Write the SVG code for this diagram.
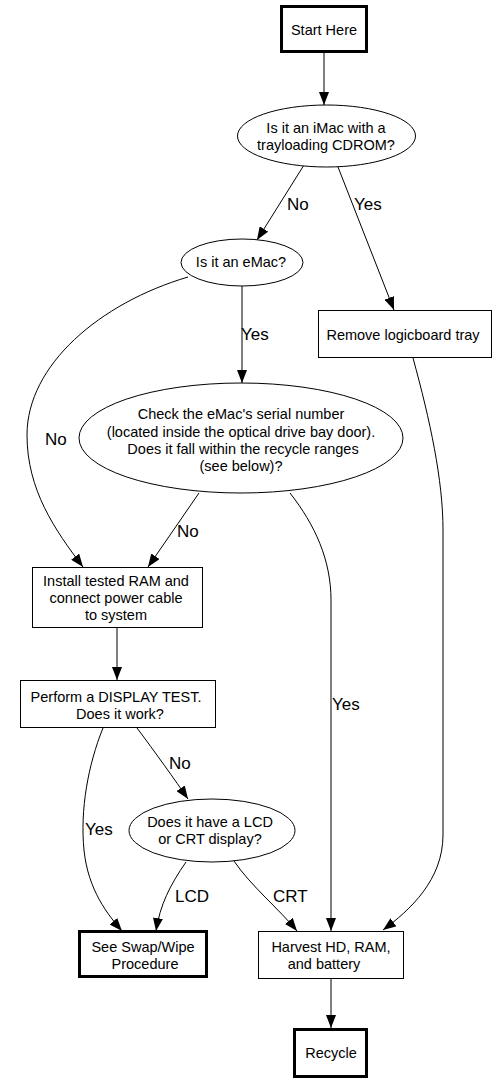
<svg xmlns="http://www.w3.org/2000/svg" width="496" height="1083" viewBox="0 0 496 1083">
<style>
.n{fill:#fff;stroke:#000;stroke-width:1}
.t{fill:#fff;stroke:#000;stroke-width:3}
.e{fill:none;stroke:#000;stroke-width:1}
text{font-family:"Liberation Sans",Arial,sans-serif;fill:#000}
.nt{font-size:14.5px;text-anchor:middle}
.lb{font-size:17px}
</style>
<defs>
<marker id="ah" markerUnits="userSpaceOnUse" viewBox="0 0 13 10" refX="13" refY="5" markerWidth="13" markerHeight="10" orient="auto">
<path d="M0,0 L13,5 L0,10 z" fill="#000"/>
</marker>
</defs>
<rect width="496" height="1083" fill="#fff"/>
<g id="connectors" class="e" marker-end="url(#ah)">
<path d="M324,53 L324,105"/>
<path d="M304,165 L257,240"/>
<path d="M338,167 L394,310"/>
<path d="M242,286 L242,383"/>
<path d="M188,277 C100,303 27,365 27,435 C27,490 55,530 83,567"/>
<path d="M199,493 L148,567"/>
<path d="M290,493 C315,525 331,560 331,600 L331,931"/>
<path d="M413,358 C430,420 443,480 443,530 L443,835 C443,880 410,910 383,930"/>
<path d="M117,628 L117,680"/>
<path d="M137,728 C155,752 175,780 188,799"/>
<path d="M103,728 C88,765 80,810 84,850 C88,890 108,915 122,931"/>
<path d="M186,862 C170,885 160,905 156,931"/>
<path d="M234,861 C250,885 280,910 297,931"/>
<path d="M331,979 L331,1028"/>
</g>
<g id="edge-labels" class="lb">
<text x="287" y="210">No</text>
<text x="354" y="210">Yes</text>
<text x="241" y="340">Yes</text>
<text x="45" y="445">No</text>
<text x="177" y="537">No</text>
<text x="332" y="710">Yes</text>
<text x="169" y="769">No</text>
<text x="85" y="835">Yes</text>
<text x="175" y="902">LCD</text>
<text x="273" y="902">CRT</text>
</g>
<g id="start">
<rect class="t" x="281.5" y="6.5" width="85" height="45"/>
<text class="nt" x="324" y="35">Start Here</text>
</g>
<g id="imac">
<ellipse class="n" cx="326.5" cy="136" rx="89" ry="31"/>
<text class="nt" x="326" y="133">Is it an iMac with a</text>
<text class="nt" x="326" y="150">trayloading CDROM?</text>
</g>
<g id="emac">
<ellipse class="n" cx="242" cy="262.5" rx="61" ry="23.5"/>
<text class="nt" x="241" y="267">Is it an eMac?</text>
</g>
<g id="remove">
<rect class="n" x="318.5" y="310.5" width="173" height="47"/>
<text class="nt" x="403" y="340">Remove logicboard tray</text>
</g>
<g id="serial">
<ellipse class="n" cx="241" cy="438" rx="162" ry="55"/>
<text class="nt" x="241" y="419">Check the eMac's serial number</text>
<text class="nt" x="241" y="437">(located inside the optical drive bay door).</text>
<text class="nt" x="243" y="454">Does it fall within the recycle ranges</text>
<text class="nt" x="241" y="471">(see below)?</text>
</g>
<g id="install">
<rect class="n" x="32.5" y="567.5" width="170" height="60"/>
<text class="nt" x="116" y="586">Install tested RAM and</text>
<text class="nt" x="116" y="603">connect power cable</text>
<text class="nt" x="116" y="620">to system</text>
</g>
<g id="display">
<rect class="n" x="20.5" y="680.5" width="195" height="47"/>
<text class="nt" x="116" y="702">Perform a DISPLAY TEST.</text>
<text class="nt" x="120" y="719">Does it work?</text>
</g>
<g id="lcdcrt">
<ellipse class="n" cx="212" cy="830.5" rx="83" ry="31.5"/>
<text class="nt" x="210" y="827">Does it have a LCD</text>
<text class="nt" x="210" y="844">or CRT display?</text>
</g>
<g id="swap">
<rect class="t" x="79.5" y="931.5" width="127" height="45"/>
<text class="nt" x="143" y="952">See Swap/Wipe</text>
<text class="nt" x="145" y="969">Procedure</text>
</g>
<g id="harvest">
<rect class="n" x="258.5" y="931.5" width="145" height="47"/>
<text class="nt" x="331" y="952">Harvest HD, RAM,</text>
<text class="nt" x="324" y="969">and battery</text>
</g>
<g id="recycle">
<rect class="t" x="294.5" y="1029.5" width="72" height="47"/>
<text class="nt" x="331" y="1058">Recycle</text>
</g>
</svg>
